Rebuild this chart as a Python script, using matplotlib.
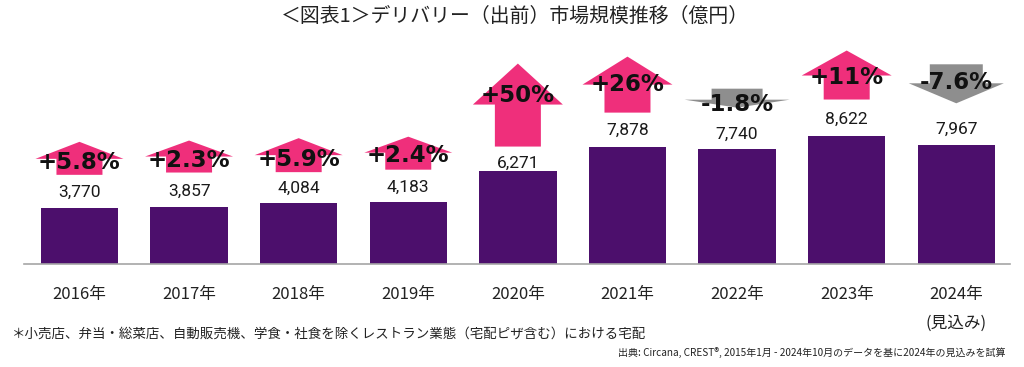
import numpy as np
import matplotlib.pyplot as plt
from matplotlib.patches import Polygon

plt.rcParams['font.family'] = ['Noto Sans CJK JP', 'DejaVu Sans']

# data
years = ['2016年', '2017年', '2018年', '2019年', '2020年', '2021年', '2022年', '2023年', '2024年\n(見込み)']
sales = [3770, 3857, 4084, 4183, 6271, 7878, 7740, 8622, 7967]  # 億円
growth = ['+5.8%', '+2.3%', '+5.9%', '+2.4%', '+50%', '+26%', '-1.8%', '+11%', '-7.6%']

# arrow styling in pixels: gap above bar top, length, head height, head width, shaft width
arrow_gap = [33, 34, 31, 32, 24, 34, 41, 36, 42]
arrow_len = [33, 32, 34, 33, 83, 56, 19, 49, 39]
arrow_head = [17, 16, 17, 16, 41, 28, 8, 25, 20]
arrow_hw = [88, 88, 88, 88, 90, 90, 105, 90, 95]
arrow_sw = [46, 46, 46, 46, 46, 46, 51, 46, 53]
pct_shift = [-4, -4, -4, -3, 9, 0, -5, -2, 1]
label_gap = [15, 15, 15, 14, 7, 16, 14, 16, 16]

bar_color = '#4C0F6C'
up_color = '#EF2F7B'
down_color = '#8E8E8E'

W, H = 1024, 367
fig = plt.figure(figsize=(W / 100, H / 100), dpi=100)
left, right, bottom, top = 24, 1010, 264, 30
ax = fig.add_axes([left / W, 1 - bottom / H, (right - left) / W, (bottom - top) / H])

x = np.arange(len(years))
xmin, xmax = -0.506, 8.49
ymax = (bottom - top) / 0.0149
ax.set_xlim(xmin, xmax)
ax.set_ylim(0, ymax)
ax.bar(x, sales, width=0.705, color=bar_color, zorder=2)

# pixel -> data helpers
px_x = (xmax - xmin) / (right - left)
px_y = ymax / (bottom - top)

for i, v in enumerate(sales):
    ax.annotate(f'{v:,}', (i, v), xytext=(0, label_gap[i]), textcoords='offset pixels',
                ha='center', va='center', fontsize=12.5, family='Roboto', color='#1a1a1a', zorder=4)

    up = not growth[i].startswith('-')
    hw = arrow_hw[i] / 2 * px_x
    sw = arrow_sw[i] / 2 * px_x
    if up:
        y0 = v + arrow_gap[i] * px_y
        y1 = y0 + (arrow_len[i] - arrow_head[i]) * px_y
        y2 = y0 + arrow_len[i] * px_y
        pts = [(i - sw, y0), (i + sw, y0), (i + sw, y1), (i + hw, y1), (i, y2),
               (i - hw, y1), (i - sw, y1)]
        col = up_color
    else:
        y0 = v + arrow_gap[i] * px_y  # tip
        y1 = y0 + arrow_head[i] * px_y
        y2 = y0 + arrow_len[i] * px_y
        pts = [(i - sw, y2), (i + sw, y2), (i + sw, y1), (i + hw, y1), (i, y0),
               (i - hw, y1), (i - sw, y1)]
        col = down_color
    ax.add_patch(Polygon(pts, closed=True, color=col, lw=0, zorder=3))
    ax.text(i, y1 + pct_shift[i] * px_y, growth[i], ha='center', va='center', fontsize=16.5,
            fontweight='bold', family='DejaVu Sans', color='#111111', zorder=5)

for s in ['top', 'right', 'left']:
    ax.spines[s].set_visible(False)
ax.spines['bottom'].set_color('#A6A6A6')
ax.spines['bottom'].set_linewidth(1.2)
ax.set_yticks([])
ax.set_xticks(x)
ax.set_xticklabels(years, fontsize=12, color='#222222', linespacing=1.95, va='top')
ax.tick_params(axis='x', length=0, pad=15.5)

fig.text(515 / W, 1 - 16 / H, '＜図表1＞デリバリー（出前）市場規模推移（億円）',
         ha='center', va='center', fontsize=14.3, color='#222222')
fig.text(12 / W, 1 - 334 / H, '＊小売店、弁当・総菜店、自動販売機、学食・社食を除くレストラン業態（宅配ピザ含む）における宅配',
         ha='left', va='center', fontsize=9.7, color='#222222')
fig.text(1005 / W, 1 - 353 / H, '出典: Circana, CREST®, 2015年1月 - 2024年10月のデータを基に2024年の見込みを試算',
         ha='right', va='center', fontsize=7.2, color='#222222')

fig.savefig('out.png', dpi=100)
